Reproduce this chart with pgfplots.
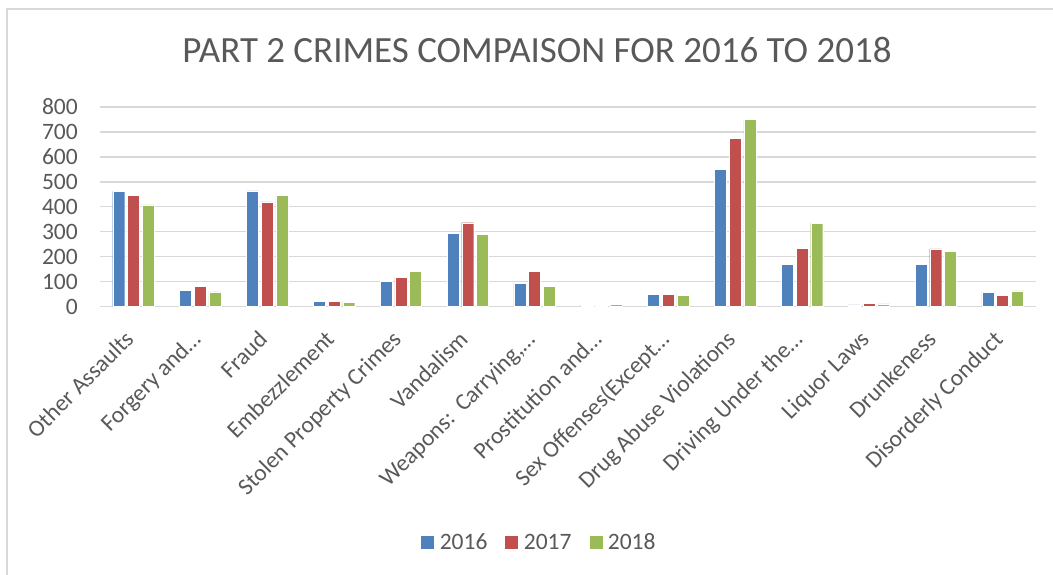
\documentclass[border=0pt]{standalone}
\usepackage{pgfplots}
\pgfplotsset{compat=1.18}
\usepackage{fontspec}
\setmainfont{Carlito}
\definecolor{cblue}{HTML}{4F81BD}
\definecolor{cred}{HTML}{C0504D}
\definecolor{cgreen}{HTML}{9BBB59}
\definecolor{txt}{HTML}{595959}
\definecolor{gridc}{HTML}{D9D9D9}
\begin{document}
\begin{tikzpicture}
\path[use as bounding box] (0,0) rectangle (1053bp,575bp);
\draw[gridc, line width=1.2bp] (7bp,-10bp) -- (7bp,566bp) -- (1070bp,566bp);
\node[text=txt, font=\fontsize{37bp}{44bp}\selectfont] at (537bp,525bp) {PART 2 CRIMES COMPAISON FOR 2016 TO 2018};
\begin{axis}[
  at={(100bp,268.5bp)}, anchor=south west,
  scale only axis, width=936bp, height=199.5bp,
  ymin=0, ymax=800, ytick={0,100,...,800},
  xmin=-0.5, xmax=13.5,
  xtick={0,...,13},
  xticklabels={Other Assaults,Forgery and…,Fraud,Embezzlement,Stolen Property Crimes,Vandalism,{Weapons:\ \ Carrying,…},Prostitution and…,Sex Offenses(Except…,Drug Abuse Violations,Driving Under the…,Liquor Laws,Drunkeness,Disorderly Conduct},
  ybar=2.7bp, bar width=12bp,
  axis line style={draw=none},
  xmajorgrids=false, ymajorgrids=true,
  y grid style={draw=gridc, line width=1.5bp},
  major tick length=0pt,
  /pgf/number format/assume math mode=true,
  tick label style={text=txt, font=\fontsize{23.5bp}{28bp}\selectfont},
  yticklabel style={anchor=east, inner sep=0pt, xshift=-22bp},
  xticklabel style={xshift=-10bp, yshift=-22.5bp, rotate=45, anchor=north east, inner sep=0pt},
  legend columns=3,
  legend style={draw=none, at={(0.4706,-1.183)}, anchor=center, font=\fontsize{23.5bp}{28bp}\selectfont, text=txt,
    nodes={inner sep=5bp},
    /tikz/every even column/.append style={column sep=12bp}},
  legend image code/.code={\fill[#1] (0bp,-7bp) rectangle (14bp,7bp);},
  clip=false,
]
\draw[gridc, line width=1.5bp] (axis cs:-0.5,0) -- (axis cs:13.5,0);
\addplot[fill=cblue, draw=white, line width=0.4bp] coordinates {(0,462) (1,64) (2,464) (3,21) (4,100) (5,294) (6,94) (7,4) (8,49) (9,551) (10,168) (11,7) (12,170) (13,57)};
\addplot[fill=cred, draw=white, line width=0.4bp] coordinates {(0,445) (1,80) (2,420) (3,20) (4,118) (5,336) (6,140) (7,5) (8,48) (9,674) (10,233) (11,12) (12,231) (13,45)};
\addplot[fill=cgreen, draw=white, line width=0.4bp] coordinates {(0,408) (1,59) (2,445) (3,17) (4,142) (5,290) (6,82) (7,9) (8,44) (9,750) (10,334) (11,11) (12,222) (13,63)};
\legend{2016,2017,2018}
\end{axis}
\end{tikzpicture}
\end{document}
